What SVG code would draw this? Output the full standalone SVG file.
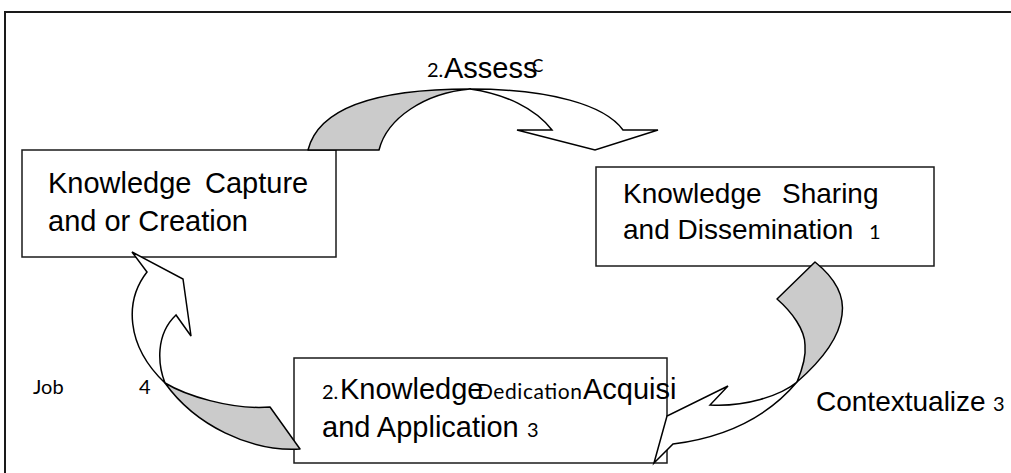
<svg xmlns="http://www.w3.org/2000/svg" width="1011" height="473" viewBox="0 0 1011 473">
<style>
.box{fill:#fff;stroke:#1a1a1a;stroke-width:1.5}
.frame{fill:none;stroke:#1a1a1a;stroke-width:2}
.g{fill:#cbcbcb;stroke:#000;stroke-width:1.5;stroke-linejoin:round}
.w{fill:#fff;stroke:#000;stroke-width:1.5;stroke-linejoin:miter}
.t{font-family:"Liberation Sans",Arial,sans-serif;font-size:29px;fill:#000}
.t28{font-family:"Liberation Sans",Arial,sans-serif;font-size:28px;fill:#000}
.s{font-family:Lato,"Liberation Sans",sans-serif;font-size:20px;fill:#000}
</style>
<rect width="1011" height="473" fill="#fff"/>
<path class="frame" d="M5,473 L5,12 L1011,12"/>
<g id="node-capture">
<rect class="box" x="22" y="150" width="314" height="107"/>
<text class="t" x="48" y="193">Knowledge</text>
<text class="t" x="205" y="193">Capture</text>
<text class="t" x="48" y="231">and or Creation</text>
</g>
<g id="node-sharing">
<rect class="box" x="596" y="167" width="338" height="99"/>
<text class="t28" x="623" y="203">Knowledge</text>
<text class="t28" x="782" y="203">Sharing</text>
<text class="t28" x="623" y="239">and Dissemination</text>
<text class="s" x="869" y="239">1</text>
</g>
<g id="node-application">
<rect class="box" x="294" y="358" width="373" height="105"/>
</g>
<g id="connectors">
<path class="g" d="M308,150 C318,110 370,89 470,89 C425,93 387,118 379,150 Z"/>
<path class="w" d="M470,89 C550,89 605,105 623,130 L658,130 L595,150 L517,130 L552,130 C535,108 505,94 470,89 Z"/>
<path class="g" d="M815,262 C835,278 845,295 842,315 C839,340 820,362 797,382 C802,370 806,355 805,345 C805,330 792,312 777,299 Z"/>
<path class="w" d="M797,382 C780,396 745,407 710,405 L728,386 L667,416 L654,463 L673,444 C720,438 765,420 797,382 Z"/>
<path class="g" d="M165,383 C185,395 230,410 270,407 L300,449 C250,452 195,425 165,383 Z"/>
<path class="w" d="M147,272 C125,300 125,345 165,383 C158,365 155,335 176,315 L191,336 L183,279 L132,252 Z"/>
</g>
<g id="labels">
<text class="s" x="427" y="77">2.</text>
<text class="t" x="444" y="78">Assess</text>
<text class="s" x="532" y="72" style="font-size:17px">C</text>
<text class="s" x="322" y="399">2.</text>
<text class="t" x="340" y="399">Knowledge</text>
<text class="s" x="477" y="399" style="font-size:21px" textLength="105" lengthAdjust="spacing">Dedication</text>
<text class="t" x="583" y="399">Acquisi</text>
<text class="t" x="322" y="437">and Application</text>
<text class="s" x="527" y="437">3</text>
<text class="s" x="33" y="394">Job</text>
<text class="s" x="139" y="394">4</text>
<text class="t28" x="816" y="411">Contextualize</text>
<text class="s" x="993" y="411">3</text>
</g>
</svg>
